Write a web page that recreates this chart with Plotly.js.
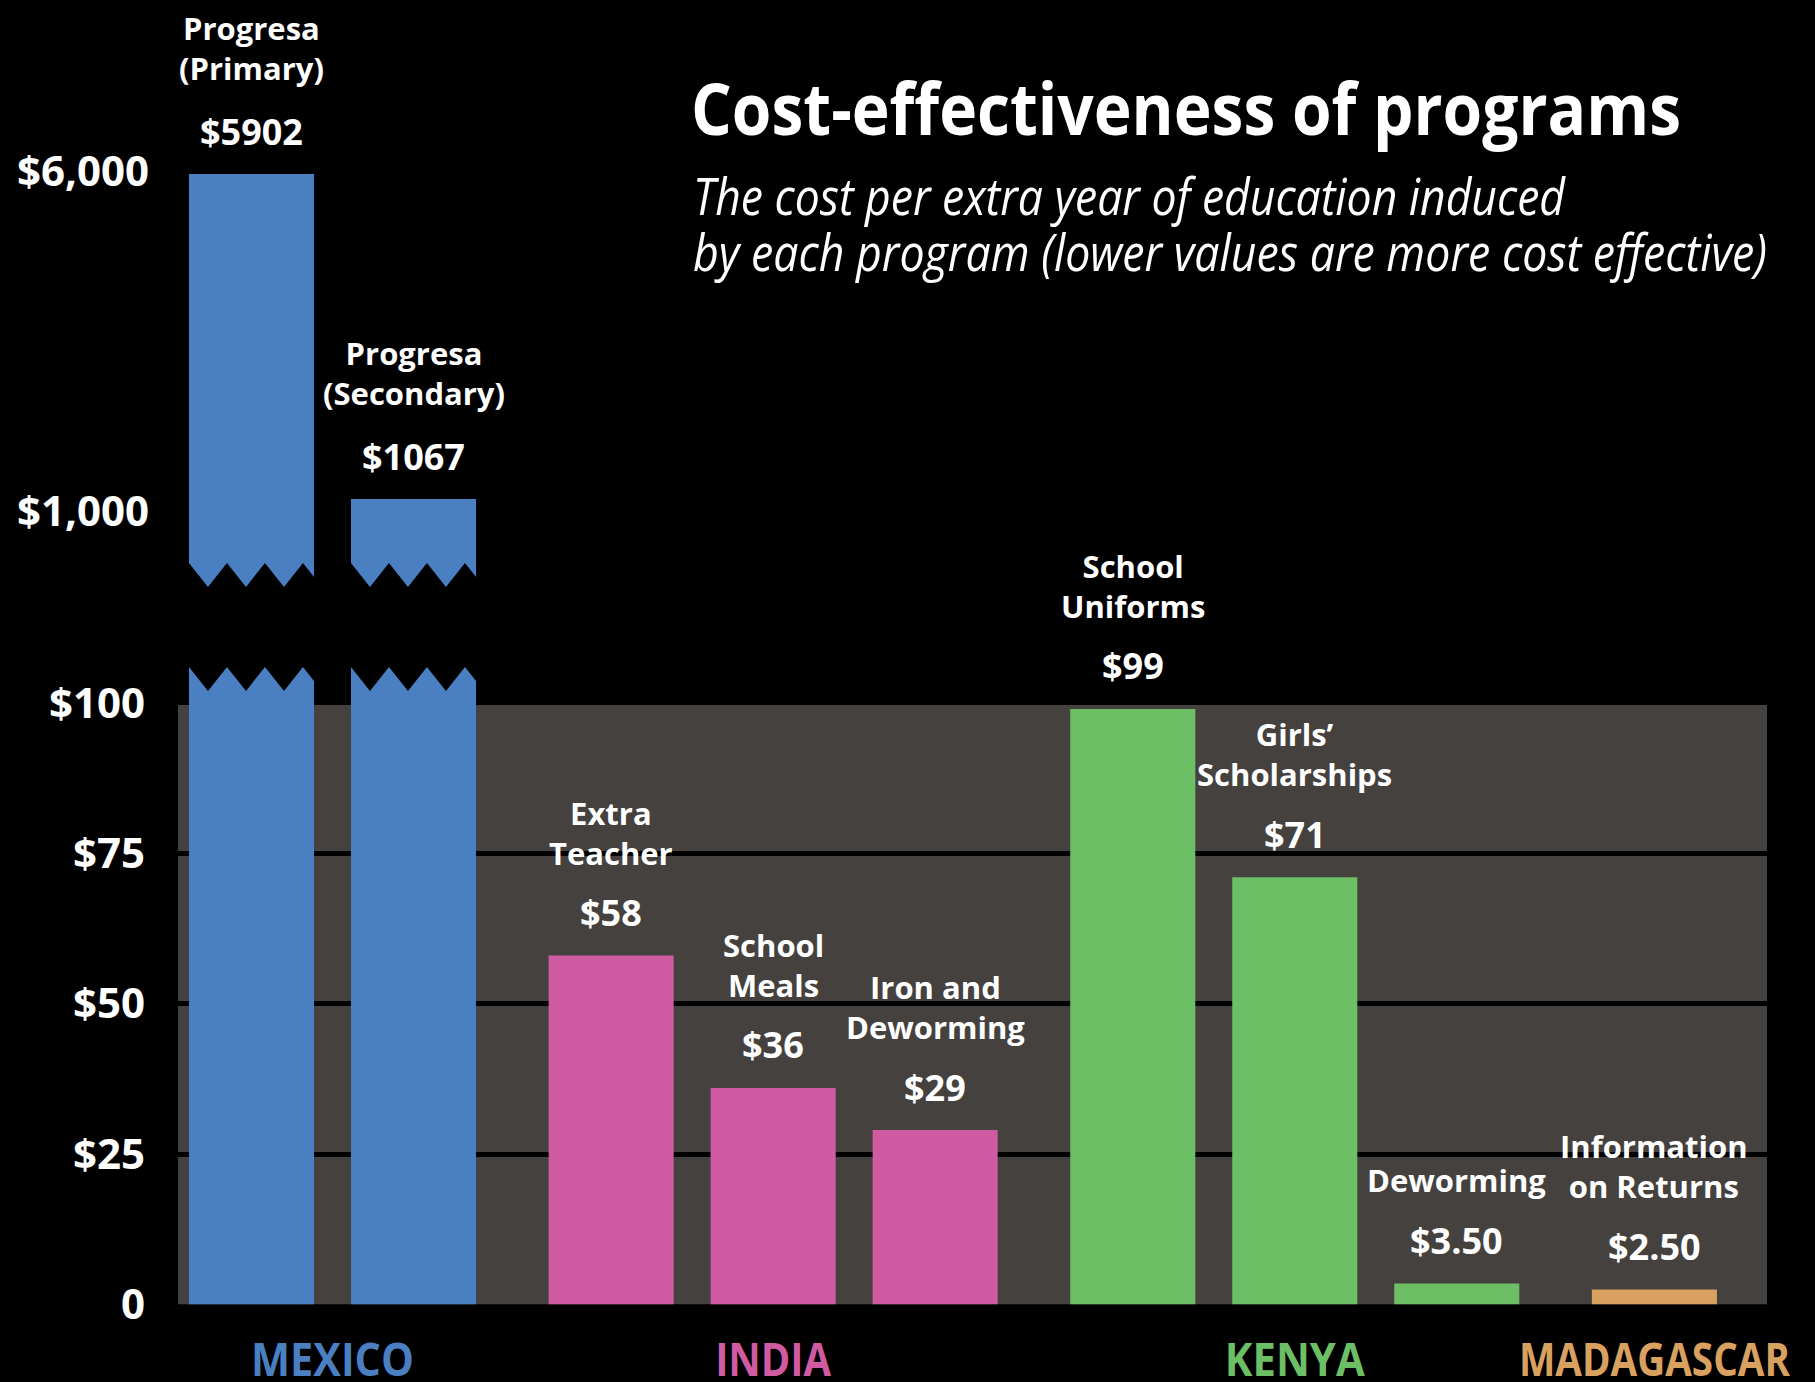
<!DOCTYPE html>
<html>
<head>
<meta charset="utf-8">
<script src="https://cdn.plot.ly/plotly-3.0.1.min.js"></script>
<style>html,body{margin:0;padding:0;background:#000;}</style>
</head>
<body>
<div id="chart" style="width:1815px;height:1382px;"></div>
<script>
// ---------- data ----------
const countries = ['MEXICO', 'INDIA', 'KENYA', 'MADAGASCAR'];
const countryColors = ['#4a7fc1', '#d05ba2', '#6dbf65', '#d9a160'];
const programNames = [
  'Progresa<br>(Primary)', 'Progresa<br>(Secondary)',
  'Extra<br>Teacher', 'School<br>Meals', 'Iron and<br>Deworming',
  'School<br>Uniforms', 'Girls\u2019<br>Scholarships', 'Deworming',
  'Information<br>on Returns'
];
const programCountry = [0, 0, 1, 1, 1, 2, 2, 2, 3];
const costs = [5902, 1067, 58, 36, 29, 99, 71, 3.5, 2.5];
const costLabels = ['$5902', '$1067', '$58', '$36', '$29', '$99', '$71', '$3.50', '$2.50'];
const lowerTickVals = [0, 25, 50, 75, 100];
const lowerTickText = ['0', '$25', '$50', '$75', '$100'];
const upperTickVals = [1000, 6000];
const upperTickText = ['$1,000', '$6,000'];
const titleText = 'Cost-effectiveness of programs';
const subtitleLines = ['The cost per extra year of education induced',
  'by each program (lower values are more cost effective)'];

// ---------- layout / style settings ----------
const W = 1815, H = 1382;
const py = p => 1 - p / H;            // pixel row -> paper y
const GROUP_GAP = 0.22;
const BAR_W = 0.772;
const LOWER_MAX = (1304.5 - 667) / 6.016;
const UPPER_RANGE = [2.82702, 4.1687];
const STYLE = {titleWidth: 990, subtitleWidths: [872, 1074], countryWidths: [163, 116, 140, 271]};

const OPEN = 'Open Sans, DejaVu Sans, sans-serif';

const xs = programCountry.map((g, i) => i + g * GROUP_GAP);
const colors = programCountry.map(g => countryColors[g]);
const countryCenters = countries.map((c, g) => {
  const m = xs.filter((x, i) => programCountry[i] === g);
  return m.reduce((a, b) => a + b, 0) / m.length;
});
const countryTickText = countries.map((c, g) =>
  '<span style="color:' + countryColors[g] + '">' + c + '</span>');

const traces = [
  {type: 'bar', x: xs, y: costs, width: BAR_W, xaxis: 'x', yaxis: 'y',
   marker: {color: colors, line: {width: 0}}, hoverinfo: 'skip'},
  {type: 'bar', x: xs, y: costs, width: BAR_W, xaxis: 'x', yaxis: 'y2',
   marker: {color: colors, line: {width: 0}}, hoverinfo: 'skip'}
];

// zigzag "axis break" marks
function zig(L, w, yEven, yOdd, yBase) {
  const h = 19 / 162;
  const pts = [[L - 0.01, yBase], [L - 0.01, yEven], [L, yEven]];
  let k = 1;
  while (L + k * h <= L + w) {
    pts.push([L + k * h, k % 2 ? yOdd : yEven]);
    k++;
  }
  const prevY = (k - 1) % 2 ? yOdd : yEven;
  const nextY = k % 2 ? yOdd : yEven;
  const frac = (w - (k - 1) * h) / h;
  const yr = prevY + (nextY - prevY) * frac;
  pts.push([L + w, yr]);
  pts.push([L + w + 0.01, yr]);
  pts.push([L + w + 0.01, yBase]);
  return 'M' + pts.map(p => p[0].toFixed(4) + ',' + py(p[1]).toFixed(5)).join(' L') + ' Z';
}

const shapes = [
  {type: 'rect', xref: 'x domain', yref: 'y', x0: 0, x1: 1, y0: 0, y1: 100,
   fillcolor: '#45413f', line: {width: 0}, layer: 'below'}
];
xs.forEach((x, i) => {
  if (costs[i] > LOWER_MAX) {
    const L = x - BAR_W / 2;
    shapes.push({type: 'path', xref: 'x', yref: 'paper', path: zig(L, BAR_W, 667, 691, 667),
      fillcolor: '#000', line: {width: 0}, layer: 'above'});
    shapes.push({type: 'path', xref: 'x', yref: 'paper', path: zig(L, BAR_W, 563, 587, 587),
      fillcolor: '#000', line: {width: 0}, layer: 'above'});
  }
});

const annotations = [];
xs.forEach((x, i) => {
  const upper = costs[i] > 100;
  const yref = upper ? 'y2' : 'y';
  const yv = upper ? Math.log10(costs[i]) : costs[i];
  annotations.push({x: x, y: yv, xref: 'x', yref: yref, text: costLabels[i],
    showarrow: false, yanchor: 'middle', yshift: 43,
    font: {family: OPEN, size: 36, color: '#fff', weight: 700}});
  annotations.push({x: x, y: yv, xref: 'x', yref: yref, text: programNames[i],
    showarrow: false, yanchor: 'bottom', yshift: upper ? 83 : 80,
    font: {family: OPEN, size: 31, color: '#fff', weight: 700}});
});
subtitleLines.forEach((t, j) => {
  annotations.push({x: 691 / W, y: py(j === 0 ? 194.5 : 250), xref: 'paper', yref: 'paper',
    text: t, showarrow: false, xanchor: 'left', yanchor: 'middle', align: 'left',
    font: {family: OPEN, size: 52, color: '#fff', style: 'italic'}});
});

const layout = {
  width: W, height: H, autosize: false,
  margin: {l: 0, r: 0, t: 0, b: 0},
  paper_bgcolor: '#000', plot_bgcolor: '#000',
  showlegend: false,
  title: {text: titleText, x: 691 / W, xanchor: 'left', xref: 'paper',
          y: py(110), yanchor: 'middle', yref: 'paper',
          font: {family: OPEN, size: 72, color: '#fff', weight: 700}},
  xaxis: {domain: [178 / W, 1767 / W], range: [-0.4537, 9.355],
          showgrid: false, zeroline: false, showline: false,
          tickvals: countryCenters, ticktext: countryTickText,
          ticks: '', ticklabelstandoff: 24, ticklabeloverflow: 'allow',
          tickfont: {family: OPEN, size: 46, weight: 700, color: '#fff'}},
  yaxis: {domain: [py(1304.5), py(667)], range: [0, LOWER_MAX],
          tickvals: lowerTickVals, ticktext: lowerTickText,
          showgrid: true, gridcolor: '#000', gridwidth: 5,
          zeroline: false, showline: false, ticks: '', ticklabelstandoff: 32,
          tickfont: {family: OPEN, size: 42, weight: 700, color: '#fff'}},
  yaxis2: {domain: [py(587), 1], type: 'log', range: UPPER_RANGE, anchor: 'x',
           tickvals: upperTickVals, ticktext: upperTickText,
           showgrid: false, zeroline: false, showline: false, ticks: '', ticklabelstandoff: 28,
           tickfont: {family: OPEN, size: 42, weight: 700, color: '#fff'}},
  shapes: shapes,
  annotations: annotations
};

Plotly.newPlot('chart', traces, layout, {displayModeBar: false, staticPlot: true}).then(gd => {
  // condensed lettering, as in the original typeface
  const fit = (el, len) => {
    el.setAttribute('textLength', len);
    el.setAttribute('lengthAdjust', 'spacingAndGlyphs');
  };
  const t = gd.querySelector('.gtitle');
  if (t) fit(t, STYLE.titleWidth);
  gd.querySelectorAll('.annotation-text').forEach(el => {
    const i = subtitleLines.indexOf(el.textContent);
    if (i >= 0) fit(el, STYLE.subtitleWidths[i]);
  });
  gd.querySelectorAll('.xtick text').forEach(el => {
    const i = countries.indexOf(el.textContent);
    if (i >= 0) fit(el, STYLE.countryWidths[i]);
  });
});
</script>
</body>
</html>
